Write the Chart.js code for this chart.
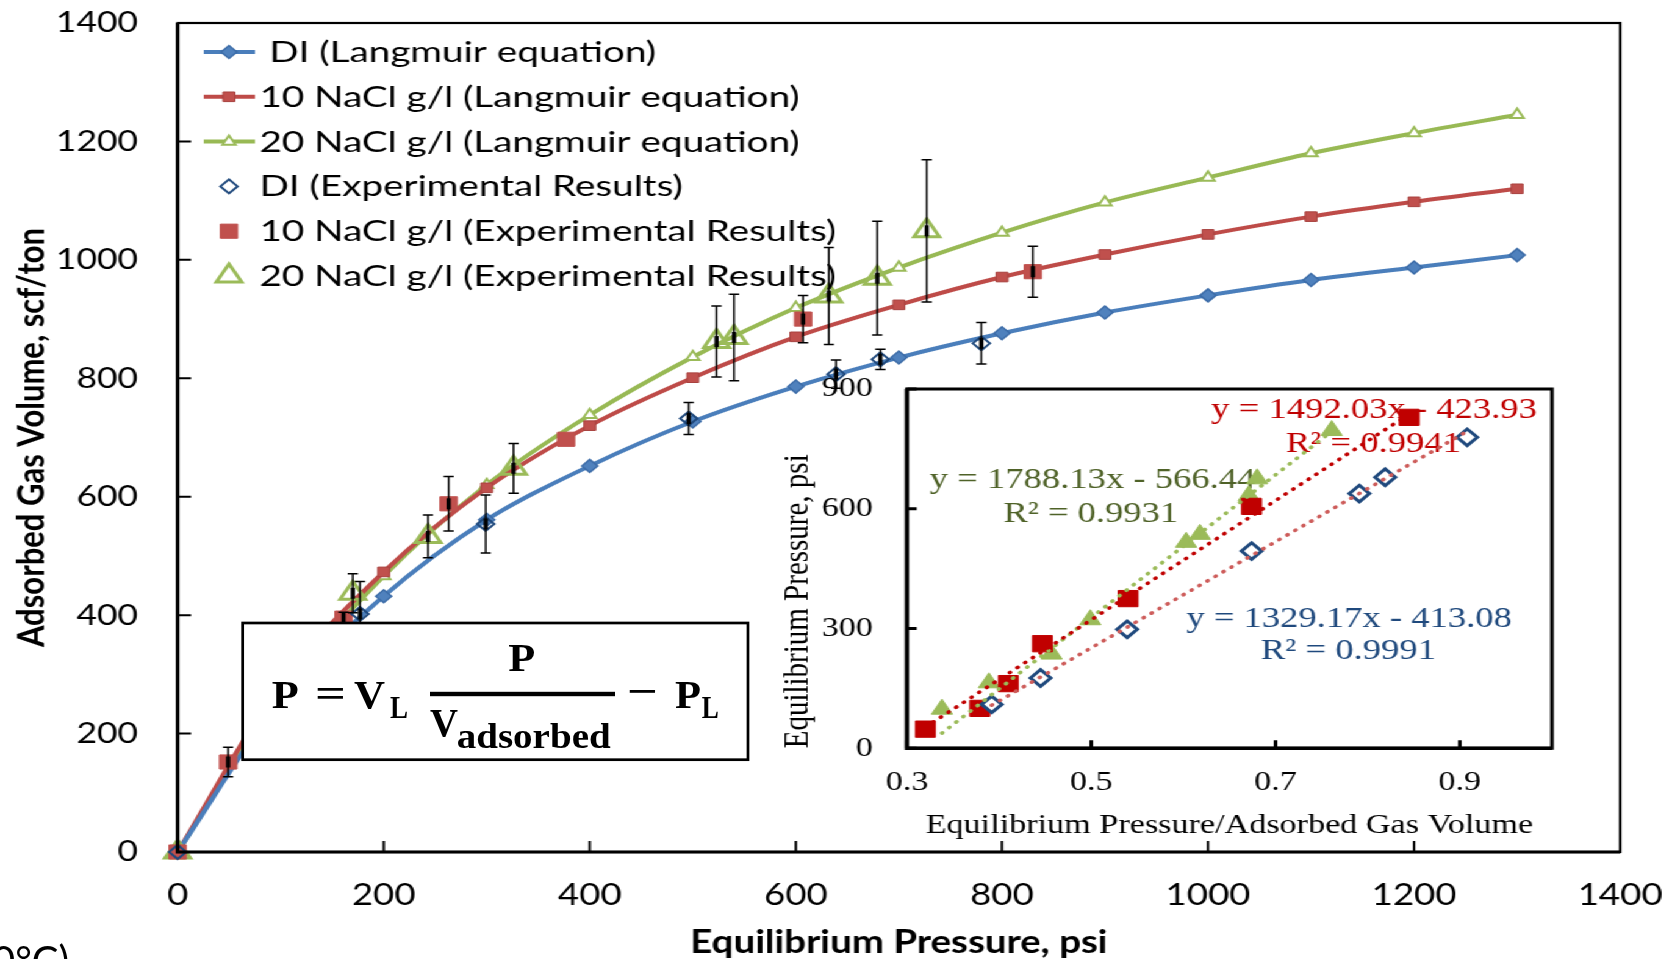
<!DOCTYPE html>
<html>
<head>
<meta charset="utf-8">
<title>Langmuir isotherms</title>
<script src="https://cdn.jsdelivr.net/npm/chart.js@4.4.0/dist/chart.umd.min.js"></script>
<style>
    html, body { margin: 0; padding: 0; background: #fff; overflow: hidden; }
    #page { position: relative; width: 1665px; height: 959px; overflow: hidden; }
    /* the source figure is stretched sideways, so the charts are drawn narrow and widened */
    #stretch { position: absolute; left: 0; top: 0; width: 1365px; height: 959px; transform: scaleX(1.22); transform-origin: 0 0; }
    #main { position: absolute; left: 0; top: 0; }
    #inset { position: absolute; left: 600px; top: 340px; }
    #overlay { position: absolute; left: 0; top: 0; pointer-events: none; }
</style>
</head>
<body>
<div id="page">
    <div id="stretch">
        <canvas id="main" width="1365" height="959"></canvas>
        <canvas id="inset" width="700" height="510"></canvas>
    </div>
    <svg id="overlay" width="1665" height="959" viewBox="0 0 1665 959">
        <rect x="242.7" y="623" width="505.3" height="136.7" fill="#fff" stroke="#000" stroke-width="2.7"/>
        <g font-family="'Liberation Serif', 'Times New Roman', serif" font-weight="bold" fill="#000">
            <text x="271.7" y="708" font-size="41" textLength="27" lengthAdjust="spacingAndGlyphs">P</text>
            <text x="315" y="707" font-size="41" textLength="31" lengthAdjust="spacingAndGlyphs">=</text>
            <text x="354" y="708" font-size="41" textLength="31" lengthAdjust="spacingAndGlyphs">V</text>
            <text x="390" y="718" font-size="32" textLength="18" lengthAdjust="spacingAndGlyphs">L</text>
            <text x="508.3" y="671" font-size="41" textLength="27" lengthAdjust="spacingAndGlyphs">P</text>
            <rect x="430" y="691.8" width="185" height="4.4"/>
            <text x="430" y="736" font-size="41" textLength="28" lengthAdjust="spacingAndGlyphs">V</text>
            <text x="456.7" y="748" font-size="36" textLength="154" lengthAdjust="spacingAndGlyphs">adsorbed</text>
            <text x="627" y="705" font-size="41" textLength="31" lengthAdjust="spacingAndGlyphs">−</text>
            <text x="675" y="708" font-size="41" textLength="26" lengthAdjust="spacingAndGlyphs">P</text>
            <text x="701.7" y="718" font-size="32" textLength="17" lengthAdjust="spacingAndGlyphs">L</text>
        </g>
        <text x="-8" y="975" font-family="Lato, sans-serif" font-size="40" fill="#000">0°C)</text>
    </svg>
</div>

<script>
// ---- main chart data ----
const mainXTicks = [0, 200, 400, 600, 800, 1000, 1200, 1400];
const mainYTicks = [0, 200, 400, 600, 800, 1000, 1200, 1400];

// Langmuir equation curves
const fitPressure = [0, 100, 200, 300, 400, 500, 600, 700, 800, 900, 1000, 1100, 1200, 1300];
const diFit = [0, 258, 432, 561, 652, 727, 786, 835, 876, 911, 940, 966, 987, 1008];
const nacl10Fit = [0, 284, 473, 615, 720, 801, 870, 924, 971, 1009, 1043, 1073, 1098, 1120];
const nacl20Fit = [0, 268, 466, 620, 738, 836, 919, 987, 1046, 1097, 1139, 1180, 1214, 1245];

// experimental results with error bars
const diPressure = [0, 110, 177, 299, 496, 639, 682, 780];
const diVolume = [0, 282, 402, 554, 732, 807, 832, 859];
const diError = [0, 30, 55, 49, 27, 24, 17, 35];
const nacl10Pressure = [0, 49, 100, 161, 263, 377, 607, 830];
const nacl10Volume = [0, 152, 263, 395, 588, 697, 900, 980];
const nacl10Error = [0, 25, 30, 10, 46, 0, 40, 43];
const nacl20Pressure = [0, 97, 170, 243, 326, 523, 540, 632, 679, 727];
const nacl20Volume = [0, 288, 437, 533, 648, 862, 869, 939, 969, 1049];
const nacl20Error = [0, 30, 33, 36, 42, 60, 73, 82, 96, 120];

// ---- inset data: pressure / adsorbed volume vs pressure ----
const insetXTicks = [0.3, 0.5, 0.7, 0.9];
const insetYTicks = [0, 300, 600, 900];
const diRatio = [0.392, 0.445, 0.539, 0.674, 0.791, 0.819, 0.908];
const diPres = [110, 176, 298, 494, 638, 679, 779];
const nacl10Ratio = [0.320, 0.379, 0.410, 0.447, 0.540, 0.674, 0.845];
const nacl10Pres = [48, 100, 162, 262, 375, 606, 829];
const nacl20Ratio = [0.338, 0.389, 0.457, 0.499, 0.603, 0.618, 0.671, 0.680, 0.761];
const nacl20Pres = [98, 164, 236, 322, 516, 536, 633, 675, 796];
// trend line end points
const diTrendX = [0.392, 0.908];
const diTrendY = [108, 794];
const nacl10TrendX = [0.320, 0.845];
const nacl10TrendY = [53, 837];
const nacl20TrendX = [0.338, 0.761];
const nacl20TrendY = [38, 794];
const fitLabels = ['y = 1492.03x - 423.93', 'R² = 0.9941', 'y = 1788.13x - 566.44', 'R² = 0.9931', 'y = 1329.17x - 413.08', 'R² = 0.9991'];

const pts = (xs, ys) => xs.map((x, i) => ({ x: x, y: ys[i] }));

Chart.defaults.font.family = "Lato, 'Open Sans', sans-serif";
Chart.defaults.color = '#000';

// box round the plot area, thick axes and tick marks pointing inwards
const frameTicks = {
    id: 'frameTicks',
    afterDraw(chart, args, o) {
        const { ctx, chartArea: a, scales } = chart;
        ctx.save();
        ctx.strokeStyle = '#000';
        ctx.lineWidth = o.boxWidth;
        ctx.strokeRect(a.left, a.top, a.right - a.left, a.bottom - a.top);
        ctx.lineWidth = o.axisWidth;
        ctx.beginPath();
        ctx.moveTo(a.left, a.top);
        ctx.lineTo(a.left, a.bottom);
        ctx.lineTo(a.right, a.bottom);
        ctx.stroke();
        ctx.lineWidth = o.tickWidth;
        ctx.beginPath();
        scales.x.ticks.forEach(t => {
            const px = scales.x.getPixelForValue(t.value);
            ctx.moveTo(px, a.bottom);
            ctx.lineTo(px, a.bottom - o.xTickLen);
        });
        scales.y.ticks.forEach(t => {
            const py = scales.y.getPixelForValue(t.value);
            ctx.moveTo(a.left, py);
            ctx.lineTo(a.left + o.yTickLen, py);
        });
        ctx.stroke();
        ctx.restore();
    }
};

// vertical error bars for the experimental series
const errorBars = {
    id: 'errorBars',
    afterDatasetsDraw(chart, args, o) {
        const { ctx, scales: { x, y } } = chart;
        ctx.save();
        ctx.strokeStyle = '#000';
        chart.data.datasets.forEach(ds => {
            if (!ds.errors) return;
            ds.data.forEach((p, j) => {
                const e = ds.errors[j];
                if (!e) return;
                const px = x.getPixelForValue(p.x);
                const cy = y.getPixelForValue(p.y);
                const top = y.getPixelForValue(p.y + e);
                const bot = y.getPixelForValue(p.y - e);
                ctx.lineWidth = o.lineWidth;
                ctx.beginPath();
                ctx.moveTo(px, top); ctx.lineTo(px, bot);
                ctx.moveTo(px - o.cap, top); ctx.lineTo(px + o.cap, top);
                ctx.moveTo(px - o.cap, bot); ctx.lineTo(px + o.cap, bot);
                ctx.stroke();
                ctx.lineWidth = o.coreWidth;
                ctx.beginPath();
                ctx.moveTo(px, cy - o.core); ctx.lineTo(px, cy + o.core);
                ctx.stroke();
            });
        });
        ctx.restore();
    }
};

// legend drawn inside the plot, top left
const seriesLegend = {
    id: 'seriesLegend',
    afterDraw(chart, args, o) {
        const ctx = chart.ctx;
        chart.data.datasets.forEach((ds, i) => {
            const cy = o.top + i * o.rowGap;
            ctx.save();
            if (ds.showLine) {
                ctx.strokeStyle = ds.borderColor;
                ctx.lineWidth = ds.borderWidth;
                ctx.beginPath();
                ctx.moveTo(o.lineStart, cy);
                ctx.lineTo(o.lineEnd, cy);
                ctx.stroke();
            }
            ctx.fillStyle = ds.pointBackgroundColor;
            ctx.strokeStyle = ds.pointBorderColor;
            ctx.lineWidth = ds.pointBorderWidth;
            Chart.helpers.drawPoint(ctx, { pointStyle: ds.pointStyle, rotation: 0, radius: ds.pointRadius, borderWidth: ds.pointBorderWidth }, o.markerX, cy);
            ctx.fillStyle = '#000';
            ctx.font = o.font;
            ctx.textBaseline = 'alphabetic';
            ctx.translate(o.textX, cy + o.baseline);
            ctx.scale(o.stretch, 1);
            ctx.fillText(ds.label, 0, 0);
            ctx.restore();
        });
    }
};

// keep the plot area where it is in the figure: no extra room for edge labels
const fixX = h => s => { s.height = h; s.paddingLeft = 0; s.paddingRight = 0; };
const fixY = w => s => { s.width = w; s.paddingTop = 0; s.paddingBottom = 0; };

const mainSets = [
    {
        label: ' DI (Langmuir equation)', data: pts(fitPressure, diFit), showLine: true, order: 1,
        borderColor: '#4A7EBB', borderWidth: 4, cubicInterpolationMode: 'monotone',
        pointStyle: 'rectRot', pointRadius: 6.5, pointBackgroundColor: '#4F81BD', pointBorderColor: '#3C6CA8', pointBorderWidth: 1.5
    },
    {
        label: '10 NaCl g/l (Langmuir equation)', data: pts(fitPressure, nacl10Fit), showLine: true, order: 1,
        borderColor: '#BE4B48', borderWidth: 4, cubicInterpolationMode: 'monotone',
        pointStyle: 'rect', pointRadius: 6.8, pointBackgroundColor: '#C0504D', pointBorderColor: '#A8423F', pointBorderWidth: 1
    },
    {
        label: '20 NaCl g/l (Langmuir equation)', data: pts(fitPressure, nacl20Fit), showLine: true, order: 1,
        borderColor: '#98B954', borderWidth: 4, cubicInterpolationMode: 'monotone',
        pointStyle: 'triangle', pointRadius: 6.2, pointBackgroundColor: '#fff', pointBorderColor: '#9BBB59', pointBorderWidth: 2
    },
    {
        label: 'DI (Experimental Results)', data: pts(diPressure, diVolume), errors: diError, showLine: false, order: 0,
        pointStyle: 'rectRot', pointRadius: 7, pointBackgroundColor: 'rgba(255,255,255,0)', pointBorderColor: '#1F497D', pointBorderWidth: 2
    },
    {
        label: '10 NaCl g/l (Experimental Results)', data: pts(nacl10Pressure, nacl10Volume), errors: nacl10Error, showLine: false, order: 0,
        pointStyle: 'rect', pointRadius: 10, pointBackgroundColor: '#C0504D', pointBorderColor: '#C0504D', pointBorderWidth: 1
    },
    {
        label: '20 NaCl g/l (Experimental Results)', data: pts(nacl20Pressure, nacl20Volume), errors: nacl20Error, showLine: false, order: 0,
        pointStyle: 'triangle', pointRadius: 12, pointBackgroundColor: 'rgba(255,255,255,0)', pointBorderColor: '#9BBB59', pointBorderWidth: 3
    }
];
mainSets.forEach(ds => { ds.clip = false; });

new Chart(document.getElementById('main'), {
    type: 'scatter',
    data: { datasets: mainSets },
    options: {
        responsive: false,
        animation: false,
        layout: { padding: { left: 0, top: 23, right: 37, bottom: 0 } },
        scales: {
            x: {
                type: 'linear', min: 0, max: 1400,
                afterBuildTicks: s => { s.ticks = mainXTicks.map(v => ({ value: v })); },
                afterFit: fixX(107),
                grid: { display: false, drawTicks: false },
                border: { display: false },
                ticks: { padding: 25, color: '#000', font: { size: 30 }, callback: v => String(v) },
                title: { display: true, text: 'Equilibrium Pressure, psi', color: '#000', padding: { top: 0, bottom: 0 }, font: { size: 31.5, weight: 'bold', lineHeight: 1 } }
            },
            y: {
                type: 'linear', min: 0, max: 1400,
                afterBuildTicks: s => { s.ticks = mainYTicks.map(v => ({ value: v })); },
                afterFit: fixY(145.6),
                grid: { display: false, drawTicks: false },
                border: { display: false },
                ticks: { padding: 32.5, color: '#000', font: { size: 29 }, callback: v => String(v) },
                title: { display: true, text: 'Adsorbed Gas Volume, scf/ton', color: '#000', padding: { top: 10.7, bottom: 0 }, font: { size: 31, weight: 'bold', lineHeight: 1 } }
            }
        },
        plugins: {
            legend: { display: false },
            tooltip: { enabled: false },
            frameTicks: { boxWidth: 2.2, axisWidth: 3, tickWidth: 2, xTickLen: 11, yTickLen: 11 },
            errorBars: { lineWidth: 1.5, cap: 4.2, coreWidth: 3.5, core: 5.5 },
            seriesLegend: { top: 52, rowGap: 44.8, lineStart: 167, lineEnd: 209, markerX: 187.7, textX: 212.7, baseline: 10, font: '28px Lato', stretch: 1.13 }
        }
    },
    plugins: [frameTicks, errorBars, seriesLegend]
});

// ---- inset ----
const insetLabels = {
    id: 'insetLabels',
    beforeDatasetsDraw(chart, args, o) {
        const ctx = chart.ctx;
        ctx.save();
        ctx.font = o.font;
        ctx.textAlign = 'center';
        ctx.textBaseline = 'alphabetic';
        o.items.forEach((it, i) => {
            ctx.fillStyle = it.color;
            ctx.fillText(fitLabels[i], it.x, it.y);
        });
        ctx.restore();
    }
};

const trend = (xs, ys, color) => ({
    data: pts(xs, ys), showLine: true, order: 0, borderColor: color, borderWidth: 3.6,
    borderDash: [0.5, 7.5], borderCapStyle: 'round', pointRadius: 0
});

const serif = "'Liberation Serif', 'Times New Roman', serif";

new Chart(document.getElementById('inset'), {
    type: 'scatter',
    data: {
        datasets: [
            trend(diTrendX, diTrendY, '#CD5C5A'),
            trend(nacl10TrendX, nacl10TrendY, '#C00000'),
            trend(nacl20TrendX, nacl20TrendY, '#9BBB59'),
            { data: pts(diRatio, diPres), order: 1, pointStyle: 'rectRot', pointRadius: 8.3, pointBackgroundColor: '#fff', pointBorderColor: '#1F497D', pointBorderWidth: 3 },
            { data: pts(nacl10Ratio, nacl10Pres), order: 1, pointStyle: 'rect', pointRadius: 11.5, pointBackgroundColor: '#C00000', pointBorderColor: '#C00000', pointBorderWidth: 1 },
            { data: pts(nacl20Ratio, nacl20Pres), order: 1, pointStyle: 'triangle', pointRadius: 10, pointBackgroundColor: '#9BBB59', pointBorderColor: '#9BBB59', pointBorderWidth: 1 }
        ]
    },
    options: {
        responsive: false,
        animation: false,
        layout: { padding: { left: 0, top: 49, right: 27.9, bottom: 0 } },
        scales: {
            x: {
                type: 'linear', min: 0.3, max: 1.0,
                afterBuildTicks: s => { s.ticks = insetXTicks.map(v => ({ value: v })); },
                afterFit: fixX(101.7),
                grid: { display: false, drawTicks: false },
                border: { display: false },
                ticks: { padding: 18, color: '#000', font: { family: serif, size: 28 }, callback: v => v.toFixed(1) },
                title: { display: true, text: 'Equilibrium Pressure/Adsorbed Gas Volume', color: '#000', padding: { top: 0, bottom: 10 }, font: { family: serif, size: 28, lineHeight: 1 } }
            },
            y: {
                type: 'linear', min: 0, max: 900,
                afterBuildTicks: s => { s.ticks = insetYTicks.map(v => ({ value: v })); },
                afterFit: fixY(143.4),
                grid: { display: false, drawTicks: false },
                border: { display: false },
                ticks: { padding: 28, color: '#000', font: { family: serif, size: 28 }, callback: v => String(v) },
                title: { display: true, text: 'Equilibrium Pressure, psi', align: 'start', color: '#000', padding: { top: 40, bottom: 0 }, font: { family: serif, size: 29, lineHeight: 1 } }
            }
        },
        plugins: {
            legend: { display: false },
            tooltip: { enabled: false },
            frameTicks: { boxWidth: 3, axisWidth: 3.5, tickWidth: 3, xTickLen: 8, yTickLen: 8 },
            insetLabels: {
                font: '30px ' + serif,
                items: [
                    { x: 526.2, y: 77.7, color: '#C00000' },
                    { x: 525.7, y: 111.7, color: '#C00000' },
                    { x: 295.5, y: 148.3, color: '#4F6228' },
                    { x: 294.1, y: 181.7, color: '#4F6228' },
                    { x: 505.9, y: 286.7, color: '#1F497D' },
                    { x: 505.2, y: 319.3, color: '#1F497D' }
                ]
            }
        }
    },
    plugins: [insetLabels, frameTicks]
});
</script>
</body>
</html>
